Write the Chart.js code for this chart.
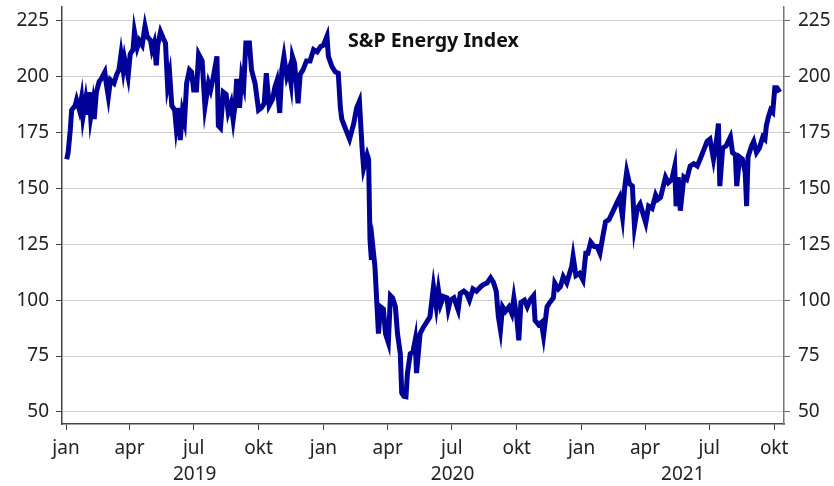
<!DOCTYPE html>
<html>
<head>
<meta charset="utf-8">
<script src="https://cdn.jsdelivr.net/npm/chart.js"></script>
<style>
  *{box-sizing:border-box;margin:0;padding:0}
  body{background:#fff;font-family:'Noto Sans',sans-serif}
  .wrap{position:relative;width:834px;height:486px}
  .title{position:absolute;left:348px;top:30px;font-size:19.6px;line-height:19px;font-weight:700;color:#111;white-space:nowrap}
</style>
</head>
<body>
<div class="wrap">
  <canvas id="chart" width="834" height="486"></canvas>
  <div class="title">S&amp;P Energy Index</div>
</div>
<script>
// trading days, counted as days since 1 Jan 2019
const days = [
  1,3,6,8,13,15,19,22,24,28,31,33,35,38,40,43,47,50,55,57,60,63,68,72,75,78,81,83,88,91,95,97,101,104,108,112,115,
  120,122,125,128,130,134,138,141,144,147,150,154,156,159,162,165,168,171,175,178,181,185,188,193,197,202,205,209,
  214,216,219,223,227,230,234,237,240,242,246,249,252,255,260,263,268,273,277,281,284,288,293,296,299,303,306,309,
  313,316,319,321,324,329,332,336,341,346,351,356,361,365,370,372,377,382,386,389,391,397,402,408,412,416,420,422,
  427,429,431,433,435,438,441,443,446,450,453,457,460,463,467,470,474,476,479,482,484,488,492,495,497,502,507,511,
  516,521,525,528,531,535,540,542,545,550,556,559,564,568,572,577,582,588,592,597,602,606,610,613,616,619,623,628,
  632,635,639,642,645,650,654,658,663,665,670,674,677,682,686,691,693,698,701,705,710,714,717,719,723,728,733,737,
  740,744,749,753,757,762,765,770,776,781,785,789,792,795,799,803,806,810,814,822,826,831,836,839,843,850,854,859,
  863,865,868,871,876,880,885,890,895,899,904,909,913,918,923,925,927,931,936,942,945,949,951,955,959,963,965,967,
  972,975,979,983,988,991,993,996,999,1002,1005,1008,1012
];
const energyIndex = [
  163,166,176,185,187,189.5,185,190.4,182,190,183,193,182,188,181,193,197.7,199,202,197,191,198.5,197,201,203,210,203,208,200,210,212,220,213,216,214,222.5,218,
  216,212,215,205,214,220,217,215,196,201,187,185,178,186,171.6,184,180,197,203,202,194,194,210,207,186.5,197,194,200,
  209,178,177,193,192,184,188,180.6,188,199,186,200,196,215,215,203,197,185,186,188,201.5,187,190,195,198,183.7,203,209,
  200,203,197,209,206,188,201,203,207,207,212,211,213.4,214,218,209,204.5,202,201.5,186,181,176,172,179,186,189,167,159,
  165,163,127,118,124,115,97,85,97,96,85,81,102,101,97,85,76,58.5,57,56.8,67,76,77,82,67.4,85,88,90,
  92.5,106,97,104.5,98,101.6,101,96,100,101,95.6,103,104,103,100,105,104,106,107,107.7,110,108,104,92.6,86.7,97,95,97,
  94,101,92.6,82,99,100,97,100,102,91,89,90,84,97,99,101,107.7,105,106,110.5,107.7,112,115,119.5,111,112,109,121,
  121,126,124,124,121,130,135,136,140,143.5,146,137.3,150,157.5,152,151,133,141,143,134.5,142,141,147,145,146,155,152.5,154,
  159.7,142,155,140,155,154,160,161,160,163,167,171,172,163,173,179,151,168,169,173,166,165,151,164,163,157,142,164,
  169,171,166,168,173,172,178,182,185,184,195,195,193
];

const yTicks = [50, 75, 100, 125, 150, 175, 200, 225];
// quarter starts: jan/apr/jul/okt 2019 - okt 2021
const monthTicks = [0, 90, 181, 273, 365, 456, 547, 639, 731, 821, 912, 1004];
const monthNames = ["jan", "apr", "jul", "okt"];
const yearLabels = ["2019", "2020", "2021"];
const yearStarts = [0, 365, 731];
const yearEnds = [365, 731, 1096];

const FONT = "'Noto Sans', sans-serif";
const tickFont = { family: FONT, size: 19 };

const yearLabelsPlugin = {
  id: "yearLabels",
  afterDraw(chart) {
    const { ctx, scales: { x } } = chart;
    ctx.save();
    ctx.font = "19px " + FONT;
    ctx.fillStyle = "#222";
    ctx.textAlign = "center";
    ctx.textBaseline = "alphabetic";
    yearLabels.forEach((lbl, i) => {
      const a = Math.max(yearStarts[i], x.min), b = Math.min(yearEnds[i], x.max);
      ctx.fillText(lbl, x.getPixelForValue((a + b) / 2), 480);
    });
    ctx.restore();
  }
};

const setYTicks = s => { s.ticks = yTicks.map(v => ({ value: v })); };
// fixed axis widths, no extra room for half tick labels
const fitY = w => s => { s.width = w; s.paddingTop = 0; s.paddingBottom = 0; };

new Chart(document.getElementById("chart"), {
  type: "line",
  data: {
    datasets: [{
      data: days.map((d, i) => ({ x: d, y: energyIndex[i] })),
      borderColor: "#000099",
      borderWidth: 5,
      pointRadius: 0,
      tension: 0,
      yAxisID: "y"
    }]
  },
  plugins: [yearLabelsPlugin],
  options: {
    responsive: false,
    animation: false,
    layout: { padding: { top: 7, left: 0, right: 0, bottom: 0 } },
    plugins: { legend: { display: false }, tooltip: { enabled: false } },
    scales: {
      x: {
        type: "linear", min: -5.7, max: 1018,
        afterBuildTicks: s => { s.ticks = monthTicks.map(v => ({ value: v })); },
        afterFit: s => { s.height = 62; s.paddingLeft = 0; s.paddingRight = 0; },
        ticks: { font: tickFont, color: "#222", padding: 7, maxRotation: 0, autoSkip: false,
          callback: (v) => monthNames[monthTicks.indexOf(v) % 4] },
        grid: { drawOnChartArea: false, tickLength: 6, tickColor: "#444" },
        border: { color: "#444", width: 1.5 }
      },
      y: {
        position: "left", min: 44.6, max: 231.1,
        afterBuildTicks: setYTicks,
        afterFit: fitY(62),
        ticks: { font: tickFont, color: "#222", padding: 7 },
        grid: { color: "#cfcfcf", lineWidth: 1, tickLength: 6, tickColor: "#444" },
        border: { color: "#444", width: 1.5 }
      },
      y2: {
        position: "right", min: 44.6, max: 231.1,
        afterBuildTicks: setYTicks,
        afterFit: fitY(50),
        ticks: { font: tickFont, color: "#222", padding: 8 },
        grid: { drawOnChartArea: false, tickLength: 6, tickColor: "#666" },
        border: { color: "#777", width: 1.5 }
      }
    }
  }
});
</script>
</body>
</html>
